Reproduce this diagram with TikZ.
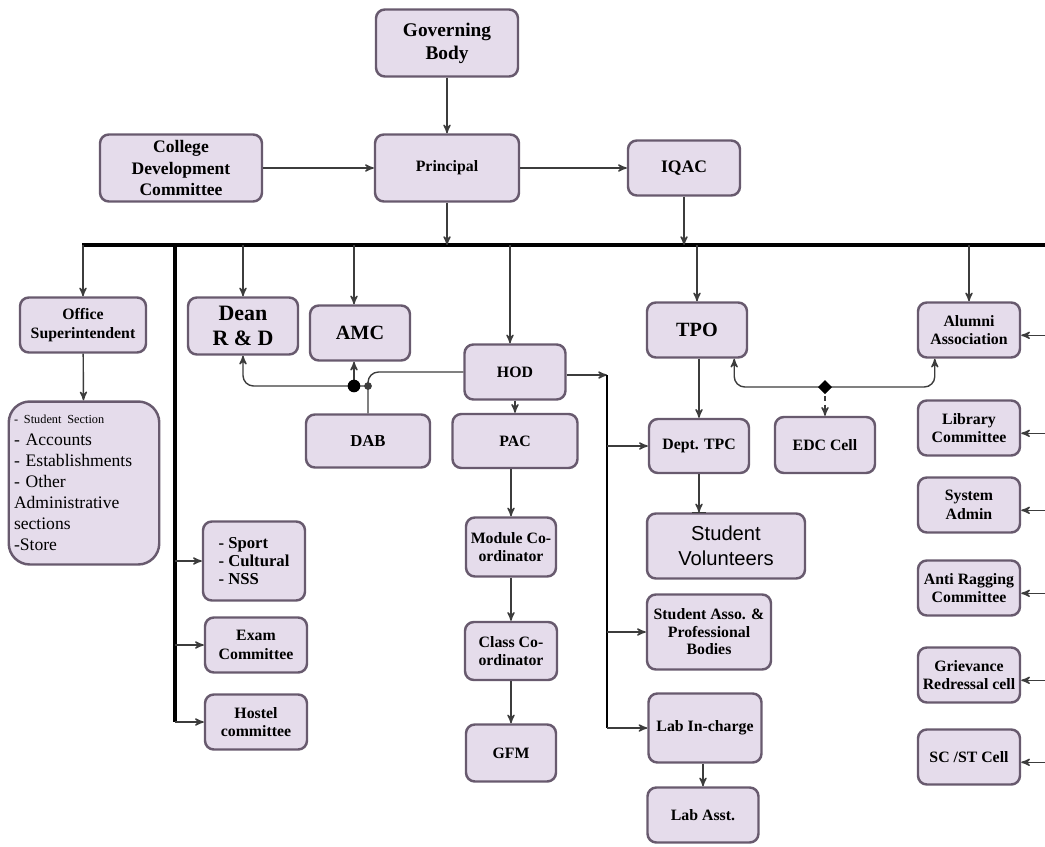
\documentclass[tikz,border=0pt]{standalone}
\usepackage{fontspec}
\setmainfont{Liberation Serif}
\newfontfamily\volfont{Liberation Sans}
\usetikzlibrary{arrows, calc}

\definecolor{boxfill}{RGB}{229,220,235}
\definecolor{boxline}{RGB}{104,90,110}
\definecolor{linkgray}{RGB}{60,60,60}

\begin{document}
\begin{tikzpicture}[
      x=0.02cm, y=-0.02cm,
      >=stealth',
      unit/.style={draw=boxline, fill=boxfill, line width=1.4pt, rounded corners=5pt,
        align=center, inner sep=1pt, font=\bfseries\fontsize{9}{10.5}\selectfont},
      side unit/.style={unit, minimum width=2.04cm, minimum height=1.1cm},
      bus/.style={line width=1.8pt, black},
      link/.style={line width=0.8pt, linkgray},
      drop/.style={->, link}
      ]
      \useasboundingbox (0,0) rectangle (1045,846);
      % nodes
      % top
      \node [unit, font=\bfseries\fontsize{11}{13}\selectfont, minimum width=2.84cm, minimum height=1.34cm] (gov) at (447,43) {Governing\\Body};
      \node [unit, font=\bfseries\fontsize{10}{12}\selectfont, minimum width=3.24cm, minimum height=1.34cm] (cdc) at (181,168) {College\\Development\\Committee};
      \node [unit, minimum width=2.88cm, minimum height=1.34cm] (principal) at (447,168) {Principal};
      \node [unit, font=\bfseries\fontsize{10}{12}\selectfont, minimum width=2.24cm, minimum height=1.1cm] (iqac) at (684,168) {IQAC};
      % left column
      \node [unit, minimum width=2.52cm, minimum height=1.1cm] (office) at (83,325) {Office\\Superintendent};
      \node [unit, font=\fontsize{10}{12}\selectfont, align=left, text width=2.8cm, inner sep=3pt, minimum height=3.26cm, rounded corners=12pt] (sections) at (84,483)
        {{\fontsize{7}{12}\selectfont - Student Section}\\- Accounts\\- Establishments\\- Other\\Administrative\\sections\\-Store};
      \node [unit, font=\bfseries\fontsize{9.5}{10.2}\selectfont, align=left, minimum width=2.04cm, minimum height=1.58cm] (sport) at (254,561) {- Sport\\- Cultural\\- NSS};
      \node [side unit] (exam) at (256,645) {Exam\\Committee};
      \node [side unit] (hostel) at (256,722) {Hostel\\committee};
      % second row
      \node [unit, font=\bfseries\fontsize{12.5}{14}\selectfont, minimum width=2.2cm, minimum height=1.14cm] (dean) at (243,326) {Dean\\R \& D};
      \node [unit, font=\bfseries\fontsize{11.5}{13}\selectfont, minimum width=2cm, minimum height=1.1cm] (amc) at (360,333) {AMC};
      \node [unit, font=\bfseries\fontsize{9.5}{11}\selectfont, minimum width=2.48cm, minimum height=1.06cm] (dab) at (368,441) {DAB};
      % HOD chain
      \node [unit, minimum width=2.02cm, minimum height=1.1cm] (hod) at (515,372) {HOD};
      \node [unit, minimum width=2.5cm, minimum height=1.08cm] (pac) at (515,441) {PAC};
      \node [unit, minimum width=1.8cm, minimum height=1.18cm] (module) at (511,547) {Module Co-\\ordinator};
      \node [unit, minimum width=1.84cm, minimum height=1.16cm] (class) at (511,651) {Class Co-\\ordinator};
      \node [unit, minimum width=1.8cm, minimum height=1.14cm] (gfm) at (511,753) {GFM};
      % TPO side
      \node [unit, font=\bfseries\fontsize{11.5}{13}\selectfont, minimum width=2cm, minimum height=1.1cm] (tpo) at (697,330) {TPO};
      \node [unit, minimum width=2cm, minimum height=1.08cm] (dtpc) at (699,446) {Dept. TPC};
      \node [unit, minimum width=2cm, minimum height=1.12cm] (edc) at (825,445) {EDC Cell};
      \node [unit, font=\volfont\fontsize{11.5}{14}\selectfont, minimum width=3.16cm, minimum height=1.3cm] (vol) at (726,546) {Student\\Volunteers};
      \node [unit, font=\bfseries\fontsize{9}{10}\selectfont, minimum width=2.48cm, minimum height=1.5cm] (sap) at (709,632) {Student Asso. \&\\Professional\\Bodies};
      \node [unit, minimum width=2.26cm, minimum height=1.38cm] (labin) at (705,728) {Lab In-charge};
      \node [unit, minimum width=2.22cm, minimum height=1.1cm] (labasst) at (703,815) {Lab Asst.};
      % right column
      \node [side unit] (alumni) at (969,330) {Alumni\\Association};
      \node [side unit] (library) at (969,428) {Library\\Committee};
      \node [side unit] (sysadmin) at (969,505) {System\\Admin};
      \node [side unit] (ragging) at (969,588) {Anti Ragging\\Committee};
      \node [side unit] (grievance) at (969,675) {Grievance\\Redressal cell};
      \node [side unit] (scst) at (969,757) {SC /ST Cell};
      % edges
      % top
      \draw [drop] (gov) -- (principal);
      \draw [drop] (cdc) -- (principal);
      \draw [drop] (principal) -- (iqac);
      % bus
      \coordinate (bus west) at (82,245);
      \coordinate (bus east) at (1045,245);
      \coordinate (left trunk) at (175,245);
      \coordinate (mid trunk) at (607,375);
      \coordinate (amc top) at ([xshift=-0.12cm]amc.north);
      \coordinate (hod top) at ([xshift=-0.1cm]hod.north);
      \draw [bus] (bus west) -- (bus east);
      \draw [drop] (principal) -- (principal |- bus west);
      \draw [drop] (iqac) -- (iqac |- bus west);
      \foreach \n in {office.north, dean.north, amc top, hod top, tpo.north, alumni.north} {
          \draw [drop] (\n |- bus west) -- (\n);
      }
      % left trunk
      \draw [bus] (left trunk) -- (left trunk |- hostel.west);
      \foreach \n in {sport, exam, hostel} {
          \draw [drop] (left trunk |- \n.west) -- (\n.west);
      }
      \draw [drop] (office) -- (sections);
      % HOD chain
      \draw [drop] (hod) -- (pac);
      \draw [drop] (module.north |- pac.south) -- (module.north);
      \draw [drop] (module) -- (class);
      \draw [drop] (class) -- (gfm);
      % mid trunk
      \draw [drop] (hod.east |- mid trunk) -- (mid trunk);
      \draw [bus, line width=1.6pt] (mid trunk) -- (mid trunk |- labin.west);
      \foreach \n in {dtpc, sap, labin} {
          \draw [drop] (mid trunk |- \n.west) -- (\n.west);
      }
      % DAB links
      \coordinate (dab dot) at (368,386);
      \coordinate (amc dot) at (amc top |- dab dot);
      \draw [link, rounded corners=6pt] (hod.west) -| (dab.north);
      \draw [drop, rounded corners=6pt] (dab dot) -| (dean.south);
      \draw [drop] (amc dot) -- (amc top |- amc.south);
      \fill [linkgray] (dab dot) circle (2.2pt);
      \fill [black] (amc dot) circle (3.6pt);
      % TPO side
      \draw [drop] (dtpc.north |- tpo.south) -- (dtpc.north);
      \draw [drop] (dtpc.south) -- (dtpc.south |- vol.north);
      \draw [link] ([xshift=-4pt]dtpc.south |- vol.north) -- ([xshift=4pt]dtpc.south |- vol.north);
      \draw [drop] (labasst.north |- labin.south) -- (labasst.north);
      \coordinate (edc dot) at (edc.north |- 0,387);
      \draw [<->, link, rounded corners=6pt] ([xshift=-0.28cm]tpo.south east) |- (edc dot) -| ([xshift=0.36cm]alumni.south west);
      \draw [drop, densely dashed] (edc dot) -- (edc.north);
      \fill [black] (edc dot) +(0,7) -- +(7,0) -- +(0,-7) -- +(-7,0) -- cycle;
      % right edge
      \foreach \n in {alumni, library, sysadmin, ragging, grievance, scst} {
          \draw [drop] ([yshift=-3pt]\n.east -| bus east) -- ([yshift=-3pt]\n.east);
      }
    \end{tikzpicture}
\end{document}
